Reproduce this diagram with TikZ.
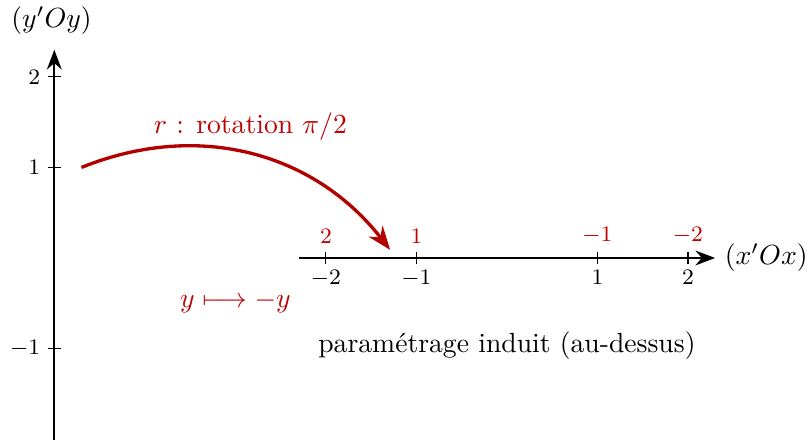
\documentclass[tikz,border=0pt]{standalone}
\usepackage{amsmath}
\usepackage{xcolor}
\usetikzlibrary{arrows.meta, positioning}

\begin{document}
\begin{tikzpicture}[
    axis/.style={-{Stealth[length=2.5mm]}, thick},
    tickmark/.style={thin},
    lab/.style={font=\footnotesize, inner sep=1pt},
    rlab/.style={font=\footnotesize, text=red!75!black, inner sep=1pt},
    rot/.style={-{Stealth[length=3mm]}, very thick, red!70!black},
    x=1.15cm, y=1.15cm,
]
\useasboundingbox (-5.6,-2.0) rectangle (3.37,2.85);

% Vertical axis (y'Oy)
\coordinate (ybot) at (-5,-2.05);
\coordinate (ytop) at (-5,2.3);
\draw[axis] (ybot) -- (ytop);
\node (ylab) at (-5.03,2.62) {$(y'Oy)$};
\foreach \v in {-1,1,2} {
    \draw[tickmark] (-5.07,\v) -- (-4.93,\v);
    \node[lab, left] (yt\v) at (-5.12,\v) {$\v$};
}

% Horizontal axis (x'Ox)
\coordinate (xmin) at (-2.3,0);
\coordinate (xmax) at (2.3,0);
\draw[axis] (xmin) -- (xmax);
\node[right] (xlab) at (xmax) {$(x'Ox)$};
\foreach \v/\w in {-2/2, -1/1, 1/-1, 2/-2} {
    \draw[tickmark] (\v,-0.07) -- (\v,0.07);
    \node[lab, below] (xb\v) at (\v,-0.1) {$\v$};
    \node[rlab, above] (xa\v) at (\v,0.12) {$\w$};
}

% Rotation arc
\coordinate (rs) at (-4.7,1.0);
\coordinate (re) at (-1.29,0.09);
\draw[rot] (rs) to[out=22, in=128] node[pos=0.5, above=1pt, text=red!75!black] (rlbl) {$r$ : rotation $\pi/2$} (re);

% Labels
\node[text=red!75!black] (map) at (-3.0,-0.49) {$y \longmapsto -y$};
\node (para) at (0,-0.97) {param\'etrage induit (au-dessus)};

\end{tikzpicture}
\end{document}
